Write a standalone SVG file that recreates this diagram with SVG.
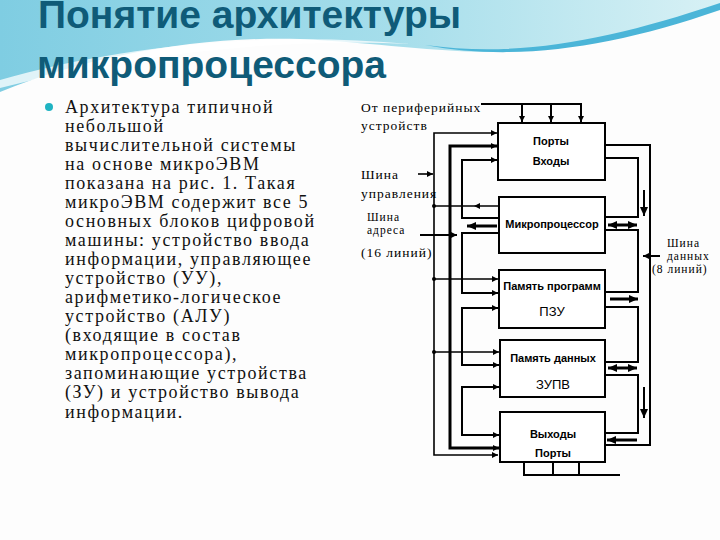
<svg xmlns="http://www.w3.org/2000/svg" width="720" height="540" viewBox="0 0 720 540">
<defs>
<linearGradient id="sky" x1="0" y1="0" x2="1" y2="0">
<stop offset="0" stop-color="#7fcde2"/>
<stop offset="0.55" stop-color="#a6deeb"/>
<stop offset="1" stop-color="#d8f1f5"/>
</linearGradient>
<marker id="ah" markerUnits="userSpaceOnUse" markerWidth="6" markerHeight="6" refX="6" refY="3" orient="auto-start-reverse"><path d="M0,0 L6,3 L0,6 Z" fill="#000"/></marker>
<marker id="big" markerUnits="userSpaceOnUse" markerWidth="9" markerHeight="8" refX="9" refY="4" orient="auto-start-reverse"><path d="M0,0 L9,4 L0,8 Z" fill="#000"/></marker>
<style>
.title{font-family:"Liberation Sans",Arial,sans-serif;font-weight:bold;font-size:39px;fill:#0f5b78}
.body{font-family:"Liberation Serif","Times New Roman",serif;font-size:18px;letter-spacing:1.6px;fill:#111}
.lbl{font-family:"Liberation Serif","Times New Roman",serif;font-size:13.5px;fill:#000;letter-spacing:1px}
.sm{font-size:11.5px}
.box{fill:#fff;stroke:#000;stroke-width:2}
.bt{font-family:"Liberation Sans",Arial,sans-serif;font-weight:bold;font-size:11px;text-anchor:middle;fill:#000}
.bt2{font-family:"Liberation Sans",Arial,sans-serif;font-size:13px;text-anchor:middle;fill:#000}
.ln{fill:none;stroke:#000;stroke-width:2}
.thin{fill:none;stroke:#000;stroke-width:1.6}
.thick{fill:none;stroke:#000;stroke-width:3}
</style>
</defs>
<rect width="720" height="540" fill="#fdfdfd"/>
<path d="M0,0 H720 V6 C650,28 580,50 505,52 C440,53 380,43 300,39 C200,36 90,55 0,92 Z" fill="url(#sky)"/>
<path d="M0,80 C110,48 260,30 410,44 C290,38 140,52 0,88 Z" fill="#ffffff" opacity="0.75"/>
<path d="M425,45 C520,58 610,40 720,3 L720,10 C610,48 515,62 425,45 Z" fill="#4bb5d8"/>
<text class="title" x="38" y="28">Понятие архитектуры</text>
<text class="title" x="37" y="78">микропроцессора</text>
<circle cx="49" cy="107" r="4" fill="#1fb3c2"/>
<g id="body-text" class="body">
<text x="65" y="113">Архитектура типичной</text>
<text x="65" y="132">небольшой</text>
<text x="65" y="151">вычислительной системы</text>
<text x="65" y="170">на основе микроЭВМ</text>
<text x="65" y="189">показана на рис. 1. Такая</text>
<text x="65" y="208">микроЭВМ содержит все 5</text>
<text x="65" y="227">основных блоков цифровой</text>
<text x="65" y="246">машины: устройство ввода</text>
<text x="65" y="265">информации, управляющее</text>
<text x="65" y="284">устройство (УУ),</text>
<text x="65" y="303">арифметико-логическое</text>
<text x="65" y="322">устройство (АЛУ)</text>
<text x="65" y="341">(входящие в состав</text>
<text x="65" y="360">микропроцессора),</text>
<text x="65" y="379">запоминающие устройства</text>
<text x="65" y="398">(ЗУ) и устройство вывода</text>
<text x="65" y="418">информации.</text>
</g>
<g id="labels" class="lbl">
<text x="361" y="112">От периферийных</text>
<text x="361" y="130">устройств</text>
<text x="361" y="179">Шина</text>
<text x="361" y="198">управления</text>
<text class="sm" x="367" y="221">Шина</text>
<text class="sm" x="367" y="234">адреса</text>
<text x="361" y="257">(16 линий)</text>
<text class="sm" x="667" y="247">Шина</text>
<text class="sm" x="667" y="260">данных</text>
<text class="sm" x="652" y="273">(8 линий)</text>
</g>
<g id="connectors">
<path class="ln" d="M481,104 H581 V122" marker-end="url(#ah)"/>
<path class="ln" d="M522,104 V122" marker-end="url(#ah)"/>
<path class="ln" d="M551,104 V122" marker-end="url(#ah)"/>
<path class="thin" d="M434,294 V133 H497" marker-end="url(#ah)"/>
<path class="thin" d="M434,294 V455 H498" marker-end="url(#ah)"/>
<path class="thin" d="M418,174 H433" marker-end="url(#ah)"/>
<path class="thin" d="M434,206 H498"/>
<path d="M474,206 L480,203 L480,209 Z" fill="#000"/>
<path class="thin" d="M434,279 H498" marker-end="url(#ah)"/>
<path class="thin" d="M434,352 H499" marker-end="url(#ah)"/>
<circle cx="434" cy="206" r="2" fill="#000"/>
<circle cx="434" cy="279" r="2" fill="#000"/>
<circle cx="434" cy="352" r="2" fill="#000"/>
<path class="thick" d="M450,300 V146 H497" marker-end="url(#ah)"/>
<path class="thick" d="M450,300 V448 H499" marker-end="url(#ah)"/>
<path class="ln" d="M420,235 H457" marker-end="url(#ah)"/>
<path class="ln" d="M499,218 H462 V160 H497" marker-end="url(#ah)"/>
<path class="ln" d="M499,233 H462 V293 H498" marker-end="url(#ah)"/>
<path class="ln" d="M498,308 H462 V365 H499" marker-start="url(#ah)" marker-end="url(#ah)"/>
<path class="ln" d="M499,387 H462 V435 H499" marker-start="url(#ah)" marker-end="url(#ah)"/>
<path class="thick" d="M497,226 H467" marker-end="url(#big)"/>
<path class="ln" d="M605,145 H650 V445 H605"/>
<path class="ln" d="M660,256 H643" marker-end="url(#ah)"/>
<path class="ln" d="M605,158 H638 V217 H605"/>
<path class="ln" d="M605,230 H638 V292 H605"/>
<path class="ln" d="M605,307 H638 V362 H605"/>
<path class="ln" d="M605,375 H638 V433 H605"/>
<path class="ln" d="M644,190 V216" marker-end="url(#big)"/>
<path class="ln" d="M644,387 V418" marker-end="url(#big)"/>
<path class="thick" d="M608,225 H637" marker-start="url(#big)" marker-end="url(#big)"/>
<path class="thick" d="M610,299 H638" marker-end="url(#big)"/>
<path class="thick" d="M608,368 H637" marker-start="url(#big)" marker-end="url(#big)"/>
<path class="thick" d="M637,440 H607" marker-end="url(#big)"/>
<path class="ln" d="M524,462 V475 M553,462 V475 M579,462 V475 M523,475 H620"/>
</g>
<g id="n-ports-in"><rect class="box" x="498" y="123" width="107" height="57"/><text class="bt" x="551" y="145">Порты</text><text class="bt" x="551" y="165">Входы</text></g>
<g id="n-cpu"><rect class="box" x="499" y="197" width="106" height="56"/><text class="bt" x="552" y="228">Микропроцессор</text></g>
<g id="n-rom"><rect class="box" x="499" y="270" width="106" height="58"/><text class="bt" x="552" y="290">Память программ</text><text class="bt2" x="552" y="316">ПЗУ</text></g>
<g id="n-ram"><rect class="box" x="500" y="340" width="105" height="57"/><text class="bt" x="553" y="362">Память данных</text><text class="bt2" x="553" y="389">ЗУПВ</text></g>
<g id="n-ports-out"><rect class="box" x="500" y="412" width="105" height="50"/><text class="bt" x="553" y="438">Выходы</text><text class="bt" x="553" y="457">Порты</text></g>
</svg>
